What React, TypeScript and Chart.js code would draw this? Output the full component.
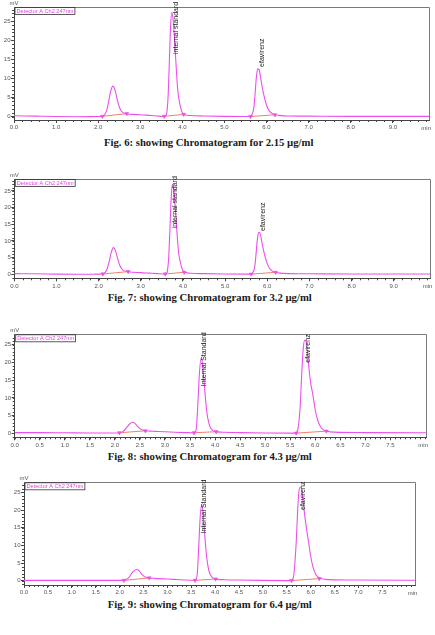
import React, { useEffect, useRef } from "react";
import { Chart, registerables } from "chart.js";

Chart.register(...registerables);

// ---------- data ----------
const retentionTimes = [
  0, 0.5, 1.0, 1.5, 2.0, 2.1, 2.15, 2.2, 2.25, 2.3,
  2.35, 2.4, 2.45, 2.5, 2.55, 2.6, 2.65, 2.7, 2.8, 3.0,
  3.2, 3.4, 3.55, 3.6, 3.63, 3.66, 3.69, 3.72, 3.75, 3.78,
  3.81, 3.84, 3.87, 3.9, 3.95, 4.0, 4.05, 4.2, 4.5, 5.0,
  5.5, 5.6, 5.65, 5.7, 5.73, 5.76, 5.79, 5.82, 5.85, 5.88,
  5.91, 5.95, 6.0, 6.05, 6.1, 6.15, 6.2, 6.3, 6.5, 7.0,
  8.0, 9.0, 9.9,
];

const fig6Signal = [
  0.25, 0.15, 0.05, 0.0, 0.05, 0.1, 0.5, 1.6, 4.0, 6.8,
  8.0, 7.0, 4.6, 2.6, 1.5, 1.0, 0.8, 0.7, 0.6, 0.5,
  0.35, 0.2, 0.1, 0.2, 1.0, 5.0, 14.0, 23.5, 27.2, 25.5,
  21.0, 15.5, 10.0, 6.0, 2.8, 1.0, 0.5, 0.3, 0.2, 0.1,
  0.05, 0.05, 0.5, 2.5, 6.3, 10.5, 12.5, 12.4, 10.8, 8.8,
  7.0, 5.0, 3.0, 1.8, 1.1, 0.7, 0.5, 0.35, 0.2, 0.15,
  0.1, 0.1, 0.1,
];

const fig7Signal = [
  0.2, 0.15, 0.05, 0.0, 0.05, 0.1, 0.5, 1.5, 3.8, 6.6,
  8.0, 7.1, 4.8, 2.7, 1.6, 1.1, 0.9, 0.75, 0.6, 0.5,
  0.35, 0.2, 0.1, 0.2, 0.9, 4.5, 13.0, 22.5, 27.0, 25.8,
  21.5, 16.0, 10.5, 6.3, 3.0, 1.1, 0.6, 0.3, 0.2, 0.1,
  0.05, 0.05, 0.4, 2.0, 5.5, 9.8, 12.3, 12.6, 11.2, 9.2,
  7.3, 5.2, 3.2, 1.9, 1.2, 0.8, 0.6, 0.35, 0.2, 0.15,
  0.1, 0.1, 0.1,
];

const fig8Signal = [
  0.2, 0.2, 0.15, 0.1, 0.1, 0.15, 0.4, 1.0, 1.9, 2.7,
  3.1, 2.8, 2.0, 1.3, 0.9, 0.7, 0.65, 0.6, 0.55, 0.45,
  0.3, 0.2, 0.15, 0.3, 2.0, 9.5, 17.5, 21.1, 19.5, 14.5,
  9.5, 5.5, 3.2, 1.8, 0.8, 0.5, 0.4, 0.3, 0.2, 0.1,
  0.05, 0.05, 1.0, 8.0, 17.0, 24.0, 26.3, 25.8, 22.0, 17.5,
  14.0, 11.0, 6.5, 3.6, 2.0, 1.1, 0.7, 0.4, 0.25, 0.2,
  0.15, 0.1, 0.1,
];

const fig9Signal = [
  0.1, 0.1, 0.1, 0.1, 0.1, 0.15, 0.4, 1.0, 2.0, 2.8,
  3.2, 2.9, 2.1, 1.4, 1.0, 0.8, 0.75, 0.7, 0.6, 0.5,
  0.35, 0.2, 0.15, 0.4, 2.5, 10.5, 18.5, 21.4, 19.0, 13.5,
  8.5, 5.0, 2.9, 1.7, 0.8, 0.5, 0.4, 0.3, 0.2, 0.1,
  0.05, 0.05, 2.0, 11.5, 20.5, 25.8, 26.5, 25.0, 21.5, 18.0,
  15.0, 11.5, 7.0, 3.8, 2.0, 1.1, 0.7, 0.4, 0.25, 0.2,
  0.15, 0.1, 0.1,
];

// integration marks (peak start / end) : time and level
const fig6MarkTimes = [2.1, 2.68, 3.57, 4.03, 5.62, 6.2];
const fig6MarkLevels = [0.1, 0.8, 0.1, 0.6, 0.05, 0.5];
const fig7MarkTimes = [2.1, 2.7, 3.58, 4.03, 5.62, 6.2];
const fig7MarkLevels = [0.1, 0.8, 0.1, 0.6, 0.05, 0.6];
const fig8MarkTimes = [2.09, 2.61, 3.58, 4.02, 5.62, 6.22];
const fig8MarkLevels = [0.15, 0.7, 0.15, 0.45, 0.05, 0.6];
const fig9MarkTimes = [2.09, 2.62, 3.58, 4.01, 5.6, 6.18];
const fig9MarkLevels = [0.1, 0.8, 0.1, 0.5, 0.05, 0.6];

// peak names and where their (rotated) text starts: [time, mV]
const peakNamesLower = ["internal standard", "efavirenz"];
const peakNamesUpper = ["Internal Standard", "efavirenz"];
const fig6LabelAt = [[3.84, 16.4], [5.89, 13.0]];
const fig7LabelAt = [[3.82, 13.8], [5.91, 13.0]];
const fig8LabelAt = [[3.785, 13.3], [5.86, 19.9]];
const fig9LabelAt = [[3.776, 13.4], [5.85, 20.0]];

const wideMajorTicks = [0, 1, 2, 3, 4, 5, 6, 7, 8, 9];
const narrowMajorTicks = [0, 0.5, 1, 1.5, 2, 2.5, 3, 3.5, 4, 4.5, 5, 5.5, 6, 6.5, 7, 7.5];
const yMajorTicks = [0, 5, 10, 15, 20, 25];

const captions = [
  "Fig. 6: showing Chromatogram for 2.15 µg/ml",
  "Fig. 7: showing Chromatogram for 3.2 µg/ml",
  "Fig. 8: showing Chromatogram for 4.3 µg/ml",
  "Fig. 9: showing Chromatogram for 6.4 µg/ml",
];

const detectorName = "Detector A Ch2 247nm";

// ---------- styling / layout ----------
const TRACE = "#ec4fec";
const BASE = "#f0806a";
const AXIS = "#444";
const TICKTXT = "#555";
const FONT = "'Liberation Sans', Arial, sans-serif";

type Panel = {
  id: string;
  signal: number[];
  markT: number[];
  markL: number[];
  names: string[];
  labelAt: number[][];
  majors: number[];
  minorStep: number;
  minorCount: number;
  xMax: number;
  yMin: number;
  yMax: number;
  canvasTop: number;
  canvasH: number;
  padTop: number;
  padRight: number;
  yAxisW: number;
  xAxisH: number;
  caption: string;
  capLeft: number;
  capTop: number;
};

const panels: Panel[] = [
  {
    id: "f6", signal: fig6Signal, markT: fig6MarkTimes, markL: fig6MarkLevels,
    names: peakNamesLower, labelAt: fig6LabelAt, majors: wideMajorTicks,
    minorStep: 0.2, minorCount: 49, xMax: 9.86, yMin: -0.86, yMax: 28.66,
    canvasTop: 0, canvasH: 136, padTop: 7, padRight: 6, yAxisW: 14, xAxisH: 16,
    caption: captions[0], capLeft: 104, capTop: 136,
  },
  {
    id: "f7", signal: fig7Signal, markT: fig7MarkTimes, markL: fig7MarkLevels,
    names: peakNamesLower, labelAt: fig7LabelAt, majors: wideMajorTicks,
    minorStep: 0.2, minorCount: 49, xMax: 9.87, yMin: -1.2, yMax: 28.6,
    canvasTop: 165, canvasH: 126, padTop: 14, padRight: 3.3, yAxisW: 14.3, xAxisH: 12.7,
    caption: captions[1], capLeft: 107.7, capTop: 291.4,
  },
  {
    id: "f8", signal: fig8Signal, markT: fig8MarkTimes, markL: fig8MarkLevels,
    names: peakNamesUpper, labelAt: fig8LabelAt, majors: narrowMajorTicks,
    minorStep: 0.1, minorCount: 82, xMax: 8.21, yMin: -1.13, yMax: 27.93,
    canvasTop: 322, canvasH: 128, padTop: 12.3, padRight: 9, yAxisW: 14.7, xAxisH: 12.7,
    caption: captions[2], capLeft: 107.7, capTop: 450.4,
  },
  {
    id: "f9", signal: fig9Signal, markT: fig9MarkTimes, markL: fig9MarkLevels,
    names: peakNamesUpper, labelAt: fig9LabelAt, majors: narrowMajorTicks,
    minorStep: 0.1, minorCount: 81, xMax: 8.19, yMin: -1.2, yMax: 27.83,
    canvasTop: 470, canvasH: 127, padTop: 12.3, padRight: 19.7, yAxisW: 24, xAxisH: 12,
    caption: captions[3], capLeft: 107.7, capTop: 597.7,
  },
];

function decorPlugin(p: Panel) {
  return {
    id: "decor_" + p.id,
    afterDraw(chart: any) {
      const { ctx, chartArea: a, scales } = chart;
      const x = scales.x;
      const y = scales.y;
      ctx.save();
      // top + right frame
      ctx.strokeStyle = "#7a7a7a";
      ctx.lineWidth = 1;
      ctx.beginPath();
      ctx.moveTo(a.left, Math.round(a.top) + 0.5);
      ctx.lineTo(Math.round(a.right) + 0.5, Math.round(a.top) + 0.5);
      ctx.lineTo(Math.round(a.right) + 0.5, a.bottom);
      ctx.stroke();

      // minor ticks
      ctx.strokeStyle = AXIS;
      ctx.beginPath();
      for (let i = 0; i <= p.minorCount; i++) {
        const v = i * p.minorStep;
        if (v > p.xMax + 1e-9) break;
        const px = Math.round(x.getPixelForValue(v)) + 0.5;
        ctx.moveTo(px, a.bottom);
        ctx.lineTo(px, a.bottom + 2);
      }
      for (let i = -1; i <= 28; i++) {
        if (i < p.yMin || i > p.yMax) continue;
        const py = Math.round(y.getPixelForValue(i)) + 0.5;
        ctx.moveTo(a.left - 2, py);
        ctx.lineTo(a.left, py);
      }
      ctx.stroke();

      // axis unit labels
      ctx.fillStyle = TICKTXT;
      ctx.font = "6px " + FONT;
      ctx.textAlign = "center";
      ctx.textBaseline = "bottom";
      ctx.fillText("mV", a.left, a.top - 0.5);
      ctx.textAlign = "right";
      ctx.textBaseline = "top";
      ctx.fillText("min", a.right + 2, a.bottom + 5);

      // detector legend box
      ctx.font = "5.6px " + FONT;
      const tw = ctx.measureText(detectorName).width;
      ctx.strokeStyle = "#333";
      ctx.lineWidth = 0.8;
      ctx.strokeRect(a.left + 1, a.top + 0.5, tw + 3, 7);
      ctx.fillStyle = "#e040e0";
      ctx.textAlign = "left";
      ctx.textBaseline = "middle";
      ctx.fillText(detectorName, a.left + 2.5, a.top + 4.2);

      // peak names (rotated)
      ctx.fillStyle = "#222";
      ctx.font = "7px " + FONT;
      p.names.forEach((name, k) => {
        const px = x.getPixelForValue(p.labelAt[k][0]);
        const py = y.getPixelForValue(p.labelAt[k][1]);
        ctx.save();
        ctx.translate(px, py);
        ctx.rotate(-Math.PI / 2);
        ctx.textAlign = "left";
        ctx.textBaseline = "middle";
        ctx.fillText(name, 0, 0);
        ctx.restore();
      });
      ctx.restore();
    },
  };
}

function ChromPanel({ p }: { p: Panel }) {
  const ref = useRef<HTMLCanvasElement | null>(null);
  useEffect(() => {
    if (!ref.current) return;
    const trace = retentionTimes.map((t, i) => ({ x: t, y: p.signal[i] }));
    const baseSegs: any[] = [];
    for (let k = 0; k + 1 < p.markT.length; k += 2) {
      baseSegs.push({ x: p.markT[k], y: p.markL[k] });
      baseSegs.push({ x: p.markT[k + 1], y: p.markL[k + 1] });
      baseSegs.push({ x: p.markT[k + 1] + 0.001, y: null });
    }
    const marks = p.markT.map((t, i) => ({ x: t, y: p.markL[i] }));
    const tickFont = { family: FONT, size: 6 };
    const chart = new Chart(ref.current, {
      type: "line",
      data: {
        datasets: [
          {
            data: trace,
            borderColor: TRACE,
            borderWidth: 1.1,
            pointRadius: 0,
            cubicInterpolationMode: "monotone",
            order: 3,
          } as any,
          {
            data: baseSegs,
            borderColor: BASE,
            borderWidth: 1,
            pointRadius: 0,
            spanGaps: false,
            order: 2,
          } as any,
          {
            data: marks,
            showLine: false,
            pointStyle: "triangle",
            rotation: 180,
            pointRadius: 2.2,
            backgroundColor: TRACE,
            borderColor: TRACE,
            borderWidth: 0.6,
            order: 1,
          } as any,
        ],
      },
      options: {
        responsive: false,
        animation: false,
        events: [],
        layout: { padding: { top: p.padTop, right: p.padRight, left: 0, bottom: 0 } },
        plugins: { legend: { display: false }, tooltip: { enabled: false } },
        scales: {
          x: {
            type: "linear",
            min: 0,
            max: p.xMax,
            afterBuildTicks: (s: any) => {
              s.ticks = p.majors.map((v) => ({ value: v }));
            },
            afterFit: (s: any) => {
              s.height = p.xAxisH;
            },
            ticks: {
              callback: (v: any) => Number(v).toFixed(1),
              font: tickFont,
              color: TICKTXT,
              padding: 1,
              maxRotation: 0,
              autoSkip: false,
            },
            grid: { drawOnChartArea: false, tickLength: 3, tickColor: AXIS },
            border: { color: AXIS, width: 1 },
          },
          y: {
            type: "linear",
            min: p.yMin,
            max: p.yMax,
            afterBuildTicks: (s: any) => {
              s.ticks = yMajorTicks.map((v) => ({ value: v }));
            },
            afterFit: (s: any) => {
              s.width = p.yAxisW;
            },
            ticks: {
              callback: (v: any) => String(v),
              font: tickFont,
              color: TICKTXT,
              padding: 0.5,
            },
            grid: { drawOnChartArea: false, tickLength: 3, tickColor: AXIS },
            border: { color: AXIS, width: 1 },
          },
        },
      } as any,
      plugins: [decorPlugin(p)],
    });
    return () => chart.destroy();
  }, [p]);

  return (
    <>
      <canvas
        ref={ref}
        width={435}
        height={p.canvasH}
        style={{ position: "absolute", left: 0, top: p.canvasTop, width: 435, height: p.canvasH }}
      />
      <div
        style={{
          position: "absolute",
          left: p.capLeft,
          top: p.capTop,
          fontFamily: "'Liberation Serif', 'Times New Roman', serif",
          fontWeight: "bold",
          fontSize: "10.7px",
          lineHeight: "12px",
          whiteSpace: "nowrap",
          color: "#1a1a1a",
        }}
      >
        {p.caption}
      </div>
    </>
  );
}

export default function App() {
  return (
    <div
      style={{
        position: "fixed",
        left: 0,
        top: 0,
        width: 435,
        height: 635,
        background: "#fff",
        overflow: "hidden",
      }}
    >
      {panels.map((p) => (
        <ChromPanel key={p.id} p={p} />
      ))}
    </div>
  );
}
